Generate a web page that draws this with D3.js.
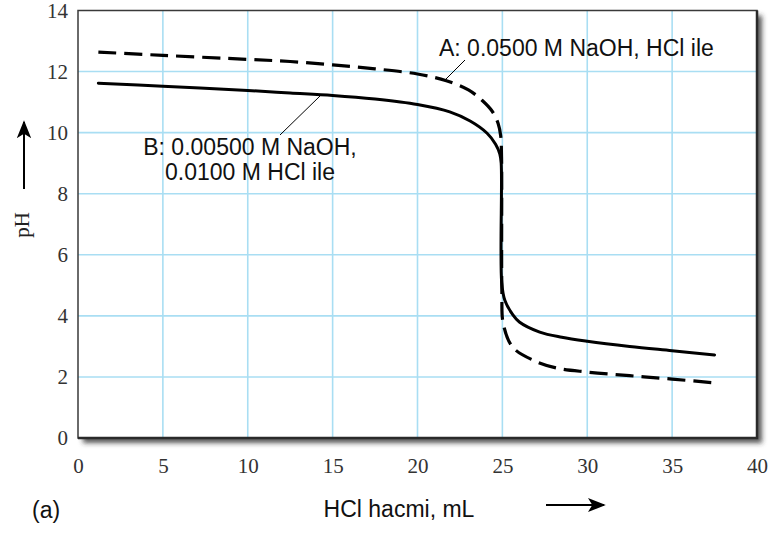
<!DOCTYPE html>
<html>
<head>
<meta charset="utf-8">
<script src="https://cdn.jsdelivr.net/npm/d3@7"></script>
<style>
  html, body { margin: 0; padding: 0; background: #fff; }
  svg { display: block; }
</style>
</head>
<body>
<svg id="chart" width="768" height="533"></svg>
<script>
// ---- data ----
const xTicks = [0, 5, 10, 15, 20, 25, 30, 35, 40];
const yTicks = [0, 2, 4, 6, 8, 10, 12, 14];

// Curve A (dashed): 0.0500 M NaOH titrated with HCl
const volumeA = [1.2, 5, 10, 12.5, 15, 17.5, 20, 21.7, 23.0, 23.8, 24.4, 24.75, 24.9, 24.95, 24.97, 25.05, 25.6, 26.8, 28.2, 30, 32.5, 35, 37.6];
const pHA     = [12.64, 12.53, 12.40, 12.33, 12.22, 12.09, 11.92, 11.70, 11.40, 11.06, 10.70, 10.30, 9.90, 9.2, 4.8, 3.75, 2.98, 2.55, 2.29, 2.16, 2.04, 1.93, 1.80];

// Curve B (solid): 0.00500 M NaOH titrated with 0.0100 M HCl
const volumeB = [1.2, 5, 10, 12.5, 15, 17.5, 20, 21.9, 23.1, 24.1, 24.6, 24.85, 24.93, 24.96, 25.15, 25.6, 26, 27.2, 28.5, 30, 32.5, 35, 37.5];
const pHB     = [11.62, 11.52, 11.38, 11.30, 11.22, 11.10, 10.92, 10.68, 10.38, 9.98, 9.62, 9.30, 9.0, 5.1, 4.5, 4.05, 3.80, 3.47, 3.30, 3.17, 3.00, 2.86, 2.72];

const labelA  = "A: 0.0500 M NaOH, HCl ile";
const labelB1 = "B: 0.00500 M NaOH,";
const labelB2 = "0.0100 M HCl ile";
const xTitle  = "HCl hacmi, mL";
const yTitle  = "pH";
const panel   = "(a)";

// ---- drawing ----
const svg = d3.select("#chart");
const x = d3.scaleLinear().domain([0, 40]).range([78, 757]);
const y = d3.scaleLinear().domain([0, 14]).range([438, 10.5]);

const defs = svg.append("defs");
const f = defs.append("filter").attr("id", "shadow")
  .attr("x", "-5%").attr("y", "-5%").attr("width", "115%").attr("height", "115%");
f.append("feDropShadow").attr("dx", 5).attr("dy", 5).attr("stdDeviation", 2.5)
  .attr("flood-color", "#333").attr("flood-opacity", 0.8);

defs.append("marker").attr("id", "arrow")
  .attr("viewBox", "0 0 20 20").attr("refX", 18).attr("refY", 10)
  .attr("markerWidth", 18).attr("markerHeight", 18).attr("markerUnits", "userSpaceOnUse")
  .attr("orient", "auto")
  .append("path").attr("d", "M0,2 L20,10 L0,18 L5,10 Z").attr("fill", "#000");

// plot background with drop shadow
svg.append("rect")
  .attr("x", x(0)).attr("y", y(14))
  .attr("width", x(40) - x(0)).attr("height", y(0) - y(14))
  .attr("fill", "#fff").attr("filter", "url(#shadow)");

// grid
const gridColor = "#a9def3";
svg.append("g").selectAll("line").data(xTicks.filter(d => d > 0 && d < 40)).join("line")
  .attr("x1", d => x(d)).attr("x2", d => x(d)).attr("y1", y(14)).attr("y2", y(0))
  .attr("stroke", gridColor).attr("stroke-width", 1.6);
svg.append("g").selectAll("line").data(yTicks.filter(d => d > 0 && d < 14)).join("line")
  .attr("y1", d => y(d)).attr("y2", d => y(d)).attr("x1", x(0)).attr("x2", x(40))
  .attr("stroke", gridColor).attr("stroke-width", 1.6);

// frame
svg.append("rect")
  .attr("x", x(0)).attr("y", y(14))
  .attr("width", x(40) - x(0)).attr("height", y(0) - y(14))
  .attr("fill", "none").attr("stroke", "#3a3a3a").attr("stroke-width", 1.5);
svg.append("path")
  .attr("d", `M${x(0)},${y(0)} L${x(40)},${y(0)} L${x(40)},${y(14)}`)
  .attr("fill", "none").attr("stroke", "#2a2a2a").attr("stroke-width", 2.5);

// axes (labels only)
const serif = "'Liberation Serif', 'Times New Roman', serif";
const xAxis = d3.axisBottom(x).tickValues(xTicks).tickSize(0).tickPadding(0).tickFormat(d3.format("d"));
const gx = svg.append("g").attr("transform", `translate(0,${y(0) + 20})`).call(xAxis);
gx.select(".domain").remove();
gx.selectAll("text").attr("font-family", serif)
  .attr("font-size", 21).attr("fill", "#333").attr("dy", "0.71em");

const yAxis = d3.axisLeft(y).tickValues(yTicks).tickSize(0).tickPadding(0).tickFormat(d3.format("d"));
const gy = svg.append("g").attr("transform", `translate(${x(0) - 10},0)`).call(yAxis);
gy.select(".domain").remove();
gy.selectAll("text").attr("font-family", serif)
  .attr("font-size", 21).attr("fill", "#333");

// curves
const line = d3.line().x(d => x(d[0])).y(d => y(d[1])).curve(d3.curveCatmullRom.alpha(0.5));
const dataA = volumeA.map((v, i) => [v, pHA[i]]);
const dataB = volumeB.map((v, i) => [v, pHB[i]]);

svg.append("path").datum(dataB).attr("d", line)
  .attr("fill", "none").attr("stroke", "#000").attr("stroke-width", 3)
  .attr("stroke-linecap", "round");
svg.append("path").datum(dataA).attr("d", line)
  .attr("fill", "none").attr("stroke", "#000").attr("stroke-width", 3.2)
  .attr("stroke-dasharray", "18,8");

// annotations
const sans = "'Liberation Sans', Arial, Helvetica, sans-serif";
svg.append("line").attr("x1", 445).attr("y1", 80).attr("x2", 465).attr("y2", 60)
  .attr("stroke", "#000").attr("stroke-width", 1);
svg.append("text").attr("x", 439).attr("y", 56).text(labelA)
  .attr("font-family", sans).attr("font-size", 23).attr("fill", "#111");

svg.append("line").attr("x1", 320).attr("y1", 96).attr("x2", 280).attr("y2", 135)
  .attr("stroke", "#000").attr("stroke-width", 1);
const tb = svg.append("text").attr("font-family", sans).attr("font-size", 23)
  .attr("fill", "#111").attr("text-anchor", "middle");
tb.append("tspan").attr("x", 250).attr("y", 155).text(labelB1);
tb.append("tspan").attr("x", 250).attr("y", 180).text(labelB2);

// axis titles
svg.append("text").attr("x", 399).attr("y", 517).attr("text-anchor", "middle")
  .attr("font-family", sans).attr("font-size", 23).attr("fill", "#111").text(xTitle);
svg.append("text").attr("x", 32).attr("y", 518)
  .attr("font-family", sans).attr("font-size", 23).attr("fill", "#111").text(panel);
svg.append("text").attr("transform", "translate(29,225) rotate(-90)")
  .attr("text-anchor", "middle")
  .attr("font-family", serif)
  .attr("font-size", 21).attr("fill", "#222").text(yTitle);

// arrows
svg.append("line").attr("x1", 24).attr("y1", 189).attr("x2", 24).attr("y2", 122)
  .attr("stroke", "#000").attr("stroke-width", 2).attr("marker-end", "url(#arrow)");
svg.append("line").attr("x1", 546).attr("y1", 505).attr("x2", 604).attr("y2", 505)
  .attr("stroke", "#000").attr("stroke-width", 2).attr("marker-end", "url(#arrow)");
</script>
</body>
</html>
